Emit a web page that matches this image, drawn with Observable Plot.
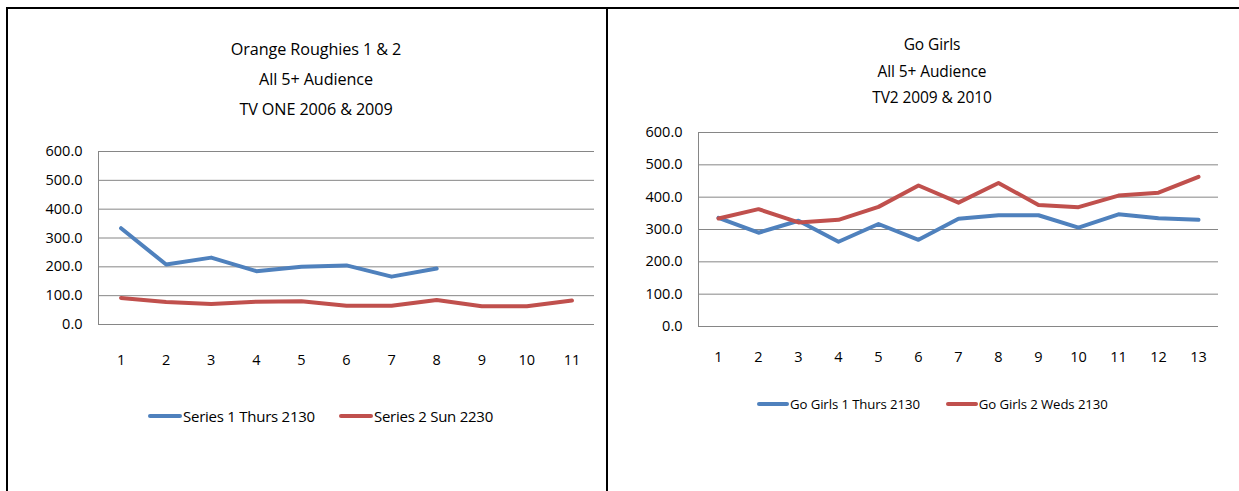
<!DOCTYPE html>
<html><head><meta charset="utf-8">
<script src="https://cdn.jsdelivr.net/npm/d3@7"></script>
<script src="https://cdn.jsdelivr.net/npm/@observablehq/plot@0.6"></script>
<style>
body{margin:0;background:#fff;}
#wrap{position:relative;width:1239px;height:491px;overflow:hidden;font-family:"Open Sans",sans-serif;color:#000;}
.ln{position:absolute;background:#000;}
.title{position:absolute;text-align:center;}
.chart{position:absolute;}
.legend{position:absolute;display:flex;align-items:center;white-space:nowrap;}
.sw{display:inline-block;height:4px;border-radius:2px;margin-right:1px;}
</style>
</head><body>
<div id="wrap">
  <div class="ln" style="left:6px;top:7px;width:1233px;height:2px"></div>
  <div class="ln" style="left:6px;top:7px;width:2px;height:484px"></div>
  <div class="ln" style="left:606px;top:7px;width:2px;height:484px"></div>
  <div class="title" id="t1" style="left:166px;width:300px;top:34px;font-size:16.2px;line-height:30px;letter-spacing:-0.1px"></div>
  <div class="title" id="t2" style="left:782px;width:300px;top:31px;font-size:15.5px;line-height:26.5px;letter-spacing:-0.1px"></div>
  <div class="chart" id="c1" style="left:30px;top:130px"></div>
  <div class="chart" id="c2" style="left:630px;top:110px"></div>
  <div class="legend" id="l1" style="left:148px;top:406px;font-size:15px;letter-spacing:-0.25px"></div>
  <div class="legend" id="l2" style="left:757px;top:395px;font-size:13.2px;letter-spacing:-0.1px"></div>
</div>
<script>
// ---- Data: Orange Roughies ----
const titleLeft = ["Orange Roughies 1 & 2", "All 5+ Audience", "TV ONE 2006 & 2009"];
const episodesLeft = [1,2,3,4,5,6,7,8,9,10,11];
const seriesLeftNames = ["Series 1 Thurs 2130", "Series 2 Sun 2230"];
const roughies1 = [334, 208, 232, 185, 200, 205, 166, 194];
const roughies2 = [92, 78, 71, 79, 81, 65, 65, 85, 63, 63, 83];

// ---- Data: Go Girls ----
const titleRight = ["Go Girls", "All 5+ Audience", "TV2 2009 & 2010"];
const episodesRight = [1,2,3,4,5,6,7,8,9,10,11,12,13];
const seriesRightNames = ["Go Girls 1 Thurs 2130", "Go Girls 2 Weds 2130"];
const goGirls1 = [336, 290, 327, 262, 317, 268, 333, 344, 344, 306, 347, 335, 330];
const goGirls2 = [334, 363, 322, 330, 370, 436, 383, 444, 376, 369, 405, 414, 463];

const yTicks = [0, 100, 200, 300, 400, 500, 600];
const colors = ["#4F81BD", "#C0504D"];
const font = '"Open Sans",sans-serif';

function rows(eps, vals, name) {
  return vals.map((v, i) => ({ep: eps[i], value: v, series: name}));
}

function makeChart(o) {
  const data = o.series.flatMap((s, k) => rows(o.eps, s, o.names[k]));
  return Plot.plot({
    width: o.width, height: o.height,
    marginLeft: o.ml, marginRight: o.mr, marginTop: o.mt, marginBottom: o.mb,
    style: {fontFamily: font, fontSize: o.fs + "px", color: "#000", background: "transparent", overflow: "visible"},
    x: {domain: [0.5, o.eps.length + 0.5]},
    y: {domain: [0, 600]},
    color: {domain: o.names, range: colors},
    marks: [
      Plot.ruleY(yTicks, {stroke: "#868686", strokeWidth: 1}),
      Plot.ruleX([0.5], {y1: 0, y2: 600, stroke: "#868686", strokeWidth: 1}),
      Plot.axisY({ticks: yTicks, tickFormat: d => d.toFixed(1), tickSize: 0, tickPadding: o.yPad, label: null}),
      Plot.axisX({ticks: o.eps, tickFormat: d => String(d), tickSize: 0, tickPadding: o.xPad, label: null}),
      Plot.line(data, {x: "ep", y: "value", z: "series", stroke: "series", strokeWidth: 4, strokeLinejoin: "round", strokeLinecap: "round"})
    ]
  });
}

document.getElementById("c1").appendChild(makeChart({
  eps: episodesLeft, series: [roughies1, roughies2], names: seriesLeftNames,
  width: 570, height: 250, ml: 68, mr: 6, mt: 21, mb: 56, fs: 14.5, yPad: 16, xPad: 30
}));
document.getElementById("c2").appendChild(makeChart({
  eps: episodesRight, series: [goGirls1, goGirls2], names: seriesRightNames,
  width: 600, height: 270, ml: 68, mr: 12, mt: 22, mb: 54, fs: 14.5, yPad: 16, xPad: 25
}));

function fillTitle(id, lines) {
  document.getElementById(id).innerHTML = lines.map(t => `<div>${t.replace(/&/g, "&amp;")}</div>`).join("");
}
fillTitle("t1", titleLeft);
fillTitle("t2", titleRight);

function fillLegend(id, names, swW, gap) {
  document.getElementById(id).innerHTML = names.map((n, k) =>
    `<span class="sw" style="width:${swW}px;background:${colors[k]}"></span><span style="margin-right:${k === 0 ? gap : 0}px">${n}</span>`
  ).join("");
}
fillLegend("l1", seriesLeftNames, 34, 24);
fillLegend("l2", seriesRightNames, 32, 26);
</script>
</body></html>
